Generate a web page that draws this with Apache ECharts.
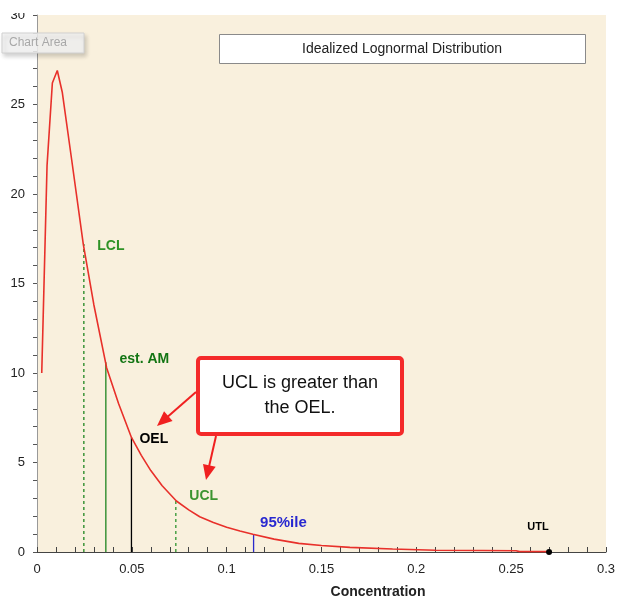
<!DOCTYPE html>
<html>
<head>
<meta charset="utf-8">
<script src="https://cdn.jsdelivr.net/npm/echarts@6/dist/echarts.min.js"></script>
<style>
html,body{margin:0;padding:0;background:#fff;}
#c{width:618px;height:601px;}
</style>
</head>
<body>
<div id="c"></div>
<script>
// ---- data ----
var curveX = [0.0025, 0.0053, 0.0081, 0.0107, 0.0133, 0.0183, 0.0244, 0.030, 0.0367, 0.043, 0.0498, 0.055, 0.060, 0.066, 0.0735, 0.080, 0.0858, 0.093, 0.100, 0.107, 0.1138, 0.125, 0.138, 0.150, 0.165, 0.1875, 0.210, 0.235, 0.2526, 0.2545, 0.270];
var curveY = [10.0, 21.6, 26.2, 26.9, 25.7, 21.9, 17.2, 13.8, 10.3, 8.3, 6.4, 5.4, 4.55, 3.7, 2.85, 2.35, 1.97, 1.65, 1.38, 1.17, 0.99, 0.72, 0.48, 0.36, 0.26, 0.17, 0.10, 0.08, 0.07, 0.02, 0.02];

var markerNames = ['LCL', 'est. AM', 'OEL', 'UCL', '95%ile'];
var markerX = [0.0247, 0.0363, 0.0498, 0.0732, 0.1142];
var markerTop = [17.2, 10.6, 6.4, 2.85, 0.99];

var labelText = ['LCL', 'est. AM', 'OEL', 'UCL', '95%ile', 'UTL'];
var labelX = [0.0318, 0.0435, 0.0540, 0.0803, 0.1176, 0.2585];
var labelY = [17.1, 10.8, 6.3, 3.1, 1.65, 1.4];

var utlX = [0.270];
var utlY = [0];

var xTickLabels = ['0', '0.05', '0.1', '0.15', '0.2', '0.25', '0.3'];
var yTickLabels = ['0', '5', '10', '15', '20', '25', '30'];

var titleText = 'Idealized Lognormal Distribution';
var calloutLines = ['UCL is greater than', 'the OEL.'];
var xAxisTitle = 'Concentration';

// ---- styles ----
var FONT = 'Liberation Sans, Arial, sans-serif';
var markerStyle = [
  {color: '#1f861f', type: [3, 3]},
  {color: '#1f861f', type: 'solid'},
  {color: '#000000', type: 'solid'},
  {color: '#2f942f', type: [3, 3]},
  {color: '#2a2acc', type: 'solid'}
];
var labelStyle = [
  {color: '#2f9326', fontWeight: 'bold', fontSize: 14},
  {color: '#137513', fontWeight: 'bold', fontSize: 14},
  {color: '#000000', fontWeight: 'bold', fontSize: 14},
  {color: '#3c9430', fontWeight: 'bold', fontSize: 14},
  {color: '#2828d0', fontWeight: 'bold', fontSize: 15},
  {color: '#000000', fontWeight: 'bold', fontSize: 11}
];

var chart = echarts.init(document.getElementById('c'));

var series = [];
series.push({
  type: 'line',
  data: curveX.map(function (x, i) { return [x, curveY[i]]; }),
  showSymbol: false,
  symbol: 'none',
  lineStyle: {color: '#e8302a', width: 1.6},
  silent: true,
  z: 5
});
markerX.forEach(function (x, i) {
  series.push({
    type: 'line',
    data: [[x, 0], [x, markerTop[i]]],
    symbol: 'none',
    lineStyle: {color: markerStyle[i].color, type: markerStyle[i].type, width: 1.3, opacity: 1},
    silent: true,
    z: 4
  });
});
series.push({
  type: 'scatter',
  data: utlX.map(function (x, i) { return [x, utlY[i]]; }),
  symbolSize: 6,
  itemStyle: {color: '#000', opacity: 1},
  silent: true,
  z: 6
});
series.push({
  type: 'scatter',
  data: labelX.map(function (x, i) {
    return {
      value: [x, labelY[i]],
      label: {
        show: true, position: 'right', distance: 0, opacity: 1,
        formatter: labelText[i],
        color: labelStyle[i].color,
        fontWeight: labelStyle[i].fontWeight,
        fontSize: labelStyle[i].fontSize,
        fontFamily: FONT
      }
    };
  }),
  symbolSize: 0,
  itemStyle: {opacity: 1},
  silent: true,
  z: 7
});

function arrow(x1, y1, x2, y2) {
  var dx = x2 - x1, dy = y2 - y1, L = Math.sqrt(dx * dx + dy * dy);
  var ux = dx / L, uy = dy / L, nx = -uy, ny = ux;
  var hl = 15, hw = 6.5;
  var bx = x2 - hl * ux, by = y2 - hl * uy;
  return [
    {type: 'line', shape: {x1: x1, y1: y1, x2: bx + ux * 2, y2: by + uy * 2}, style: {stroke: '#f02020', lineWidth: 2}, z: 100},
    {type: 'polygon', shape: {points: [[x2, y2], [bx + hw * nx, by + hw * ny], [bx - hw * nx, by - hw * ny]]}, style: {fill: '#f02020'}, z: 100}
  ];
}

var graphics = [
  // cover top of the plot like the cropped reference
  {type: 'rect', shape: {x: 0, y: 0, width: 36, height: 13}, style: {fill: '#ffffff'}, z: 200, zlevel: 1},
  // chart area hover tag
  {type: 'rect', shape: {x: 2, y: 33, width: 82, height: 20}, style: {fill: 'rgba(245,245,245,0.85)', stroke: '#d0d0d0', lineWidth: 1, shadowBlur: 4, shadowOffsetX: 2, shadowOffsetY: 3, shadowColor: 'rgba(0,0,0,0.2)'}, z: 210},
  {type: 'text', style: {x: 9, y: 43, text: 'Chart Area', fill: '#a8a8a8', font: '12px ' + FONT, textVerticalAlign: 'middle'}, z: 211},
  // title box
  {type: 'rect', shape: {x: 219.5, y: 34.5, width: 366, height: 29}, style: {fill: '#ffffff', stroke: '#8a8a8a', lineWidth: 1}, z: 50},
  {type: 'text', style: {x: 402, y: 49, text: titleText, fill: '#222', font: '14px ' + FONT, textAlign: 'center', textVerticalAlign: 'middle'}, z: 51},
  // callout
  {type: 'rect', shape: {x: 198, y: 358, width: 204, height: 76, r: 3}, style: {fill: '#ffffff', stroke: '#f42a2a', lineWidth: 4}, z: 100},
  {type: 'text', style: {x: 300, y: 383, text: calloutLines[0], fill: '#111', font: '18px ' + FONT, textAlign: 'center', textVerticalAlign: 'middle'}, z: 101},
  {type: 'text', style: {x: 300, y: 408, text: calloutLines[1], fill: '#111', font: '18px ' + FONT, textAlign: 'center', textVerticalAlign: 'middle'}, z: 101},
  // axis title
  {type: 'text', style: {x: 378, y: 592, text: xAxisTitle, fill: '#222', font: 'bold 14px ' + FONT, textAlign: 'center', textVerticalAlign: 'middle'}, z: 50}
].concat(arrow(196, 392, 157, 426)).concat(arrow(216, 436, 206, 480));

chart.setOption({
  animation: false,
  backgroundColor: '#ffffff',
  grid: {left: 37, right: 11, top: 15, bottom: 49, show: true, backgroundColor: '#f9f0dd', borderWidth: 0},
  xAxis: {
    type: 'value', min: 0, max: 0.3, interval: 0.05,
    axisLine: {show: true, lineStyle: {color: '#444', width: 1}},
    axisTick: {show: true, inside: true, length: 5, lineStyle: {color: '#444'}},
    minorTick: {show: true, splitNumber: 5, length: 5, lineStyle: {color: '#444'}},
    splitLine: {show: false},
    axisLabel: {
      color: '#222', fontSize: 13, fontFamily: FONT, margin: 11,
      formatter: function (v) { return xTickLabels[Math.round(v / 0.05)]; }
    }
  },
  yAxis: {
    type: 'value', min: 0, max: 30, interval: 5,
    axisLine: {show: true, lineStyle: {color: '#999', width: 1}},
    axisTick: {show: true, inside: false, length: 4, lineStyle: {color: '#555'}},
    minorTick: {show: true, splitNumber: 5, length: 4, lineStyle: {color: '#555'}},
    splitLine: {show: false},
    axisLabel: {
      color: '#222', fontSize: 13, fontFamily: FONT, margin: 12,
      formatter: function (v) { return yTickLabels[Math.round(v / 5)]; }
    }
  },
  series: series,
  graphic: graphics
});
</script>
</body>
</html>
